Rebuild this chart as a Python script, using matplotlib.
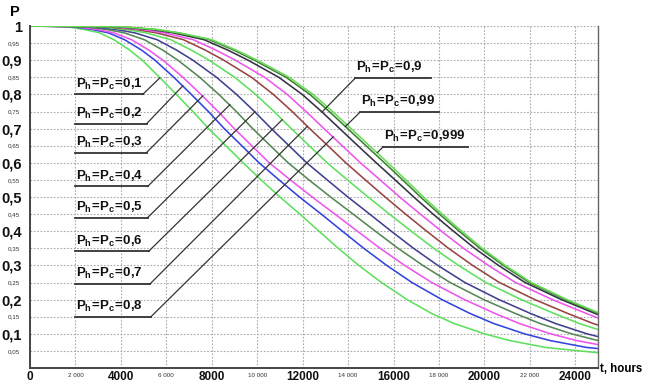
import matplotlib
matplotlib.use("Agg")
import matplotlib.pyplot as plt
from matplotlib.ticker import FixedLocator, FuncFormatter

# ---- data ----
# each curve: the hours at which it passes these probability levels
p_levels = [1.0, 0.998, 0.99, 0.98, 0.96, 0.93, 0.90, 0.85, 0.80, 0.75, 0.70, 0.65, 0.60, 0.55,
            0.50, 0.45, 0.40, 0.35, 0.30, 0.25, 0.20, 0.16, 0.13, 0.10, 0.08, 0.06, 0.04]

t_01 = [0, 1600, 2380, 3060, 3690, 4380, 4940, 5700, 6440, 7170, 7860, 8620, 9380, 10170,
        11000, 11880, 12720, 13570, 14470, 15470, 16600, 17660, 18670, 20000, 21130, 22700, 25700]
t_02 = [0, 1860, 2730, 3450, 4160, 4900, 5500, 6330, 7100, 7850, 8550, 9320, 10080, 10960,
        11860, 12820, 13750, 14690, 15700, 16810, 18130, 19350, 20410, 21760, 22910, 24510, 27530]
t_03 = [0, 2030, 2950, 3690, 4470, 5220, 5850, 6730, 7520, 8280, 8990, 9760, 10530, 11460,
        12420, 13420, 14410, 15410, 16490, 17680, 19120, 20450, 21540, 22910, 24080, 25680, 28720]
t_04 = [0, 2340, 3370, 4150, 5030, 5830, 6510, 7470, 8310, 9080, 9800, 10580, 11360, 12280,
        13230, 14220, 15200, 16200, 17290, 18490, 19970, 21340, 22450, 23830, 25010, 26630, 29680]
t_05 = [0, 2660, 3780, 4610, 5590, 6440, 7170, 8210, 9090, 9880, 10620, 11400, 12180, 13080,
        13990, 14950, 15900, 16880, 17950, 19140, 20640, 22010, 23130, 24510, 25700, 27330, 30390]
t_06 = [0, 2990, 4230, 5100, 6190, 7090, 7880, 9010, 9930, 10740, 11500, 12290, 13080, 13970,
        14880, 15820, 16780, 17770, 18860, 20060, 21620, 23050, 24180, 25590, 26790, 28430, 31500]
t_07 = [0, 3300, 4650, 5560, 6750, 7700, 8530, 9750, 10710, 11540, 12310, 13110, 13900, 14760,
        15630, 16530, 17460, 18420, 19480, 20660, 22220, 23650, 24790, 26200, 27410, 29060, 32140]
t_08 = [0, 3540, 4960, 5910, 7180, 8170, 9040, 10330, 11320, 12150, 12940, 13740, 14540, 15410,
        16270, 17180, 18110, 19080, 20170, 21370, 22990, 24470, 25620, 27040, 28260, 29920, 33010]
t_09 = [0, 3810, 5320, 6300, 7660, 8690, 9600, 10950, 11980, 12830, 13630, 14430, 15240, 16070,
        16890, 17740, 18640, 19570, 20620, 21790, 23390, 24850, 25990, 27420, 28650, 30320, 33410]
t_099 = [0, 3940, 5490, 6500, 7900, 8950, 9880, 11270, 12320, 13170, 13980, 14790, 15600, 16400,
         17190, 18020, 18890, 19800, 20830, 21970, 23560, 25000, 26150, 27570, 28800, 30470, 33570]
t_0999 = [0, 4000, 5570, 6580, 8000, 9060, 10000, 11410, 12460, 13320, 14130, 14940, 15750, 16540,
          17320, 18140, 19000, 19900, 20920, 22060, 23640, 25080, 26220, 27650, 28880, 30550, 33650]

curves = [t_01, t_02, t_03, t_04, t_05, t_06, t_07, t_08, t_09, t_099, t_0999]
colors = ["#5ee05e", "#3344dd", "#ee55ee", "#558855", "#404090", "#5ee05e",
          "#994444", "#ee55ee", "#333344", "#3f7f35", "#66dd55"]

label_texts = ["0{,}1", "0{,}2", "0{,}3", "0{,}4", "0{,}5", "0{,}6", "0{,}7", "0{,}8",
               "0{,}9", "0{,}99", "0{,}999"]
# underline: level, start, end ; leader end point on the curve
label_level = [0.80, 0.714, 0.63, 0.531, 0.44, 0.341, 0.245, 0.149, 0.848, 0.749, 0.647]
label_start = [2000, 2000, 2000, 2000, 2000, 2000, 2000, 2000, 14320, 14540, 15550]
label_end = [4960, 5130, 5130, 5180, 5180, 5220, 5270, 5310, 17630, 17980, 19260]
leader_t = [5710, 6724, 7610, 8800, 9900, 11100, 12200, 13350, 12860, 13880, 15290]
leader_p = [0.848, 0.825, 0.796, 0.770, 0.749, 0.726, 0.706, 0.676, 0.749, 0.706, 0.630]

# ---- fonts ----
plt.rcParams["font.family"] = ["Liberation Sans", "DejaVu Sans"]
plt.rcParams["mathtext.fontset"] = "custom"
plt.rcParams["mathtext.rm"] = "Liberation Sans"
plt.rcParams["mathtext.bf"] = "Liberation Sans:bold"

fig = plt.figure(figsize=(6.45, 3.83), dpi=100)
ax = fig.add_axes([30 / 645, 15 / 383, 568 / 645, 342 / 383])

for ts, c in zip(curves, colors):
    ax.plot(ts, p_levels, color=c, lw=1.15)

for i, txt in enumerate(label_texts):
    lvl = label_level[i]
    x0, x1 = label_start[i], label_end[i]
    ax.plot([x0, x1], [lvl, lvl], color="#333333", lw=1.3)
    if i < 8:
        ax.plot([x1, leader_t[i]], [lvl, leader_p[i]], color="#333333", lw=0.9)
    else:
        ax.plot([x0, leader_t[i]], [lvl, leader_p[i]], color="#333333", lw=0.9)
    ax.text(x0 + 40, lvl + 0.008, r"$\mathbf{P_h\!=\!P_c\!=\!%s}$" % txt,
            fontsize=9.5, ha="left", va="bottom", color="#111111")

ax.set_xlim(0, 25000)
ax.set_ylim(0, 1)

# grid every 2000 h and every 0.05
ax.xaxis.set_major_locator(FixedLocator(range(0, 25000, 4000)))
ax.xaxis.set_minor_locator(FixedLocator(range(2000, 25000, 4000)))
ax.yaxis.set_major_locator(FixedLocator([i / 10 for i in range(1, 11)]))
ax.yaxis.set_minor_locator(FixedLocator([i / 10 + 0.05 for i in range(0, 10)]))

ax.xaxis.set_major_formatter(FuncFormatter(lambda v, p: "%d" % v))
ax.xaxis.set_minor_formatter(FuncFormatter(lambda v, p: "{:,}".format(int(v)).replace(",", " ")))
ax.yaxis.set_major_formatter(FuncFormatter(lambda v, p: ("%g" % round(v, 2)).replace(".", ",")))
ax.yaxis.set_minor_formatter(FuncFormatter(lambda v, p: ("%.2f" % v).replace(".", ",")))

ax.tick_params(which="both", length=0)
ax.tick_params(axis="x", which="major", labelsize=8.5, pad=2, labelcolor="#111111")
ax.tick_params(axis="x", which="minor", labelsize=4.5, pad=3.5, labelcolor="#333333")
ax.tick_params(axis="y", which="major", labelsize=10.5, pad=6, labelcolor="#111111")
ax.tick_params(axis="y", which="minor", labelsize=4.5, pad=7, labelcolor="#333333")
for lab in ax.get_xticklabels() + ax.get_yticklabels():
    lab.set_fontweight("bold")

ax.grid(True, which="both", color="#aaaaaa", linestyle=(0, (1.5, 1.5)), lw=0.8)

ax.spines["top"].set_visible(False)
ax.spines["left"].set_color("#444444")
ax.spines["left"].set_linewidth(1.4)
ax.spines["bottom"].set_color("#444444")
ax.spines["bottom"].set_linewidth(1.4)
ax.spines["right"].set_color("#666666")
ax.spines["right"].set_linewidth(1.0)

fig.text(15 / 645, 1 - 12 / 383, "P", fontsize=10.5, fontweight="bold", ha="center", va="center")
fig.text(600 / 645, 1 - 369 / 383, "t, hours", fontsize=8.3, fontweight="bold", ha="left", va="center")

fig.savefig("out.png", dpi=100)
